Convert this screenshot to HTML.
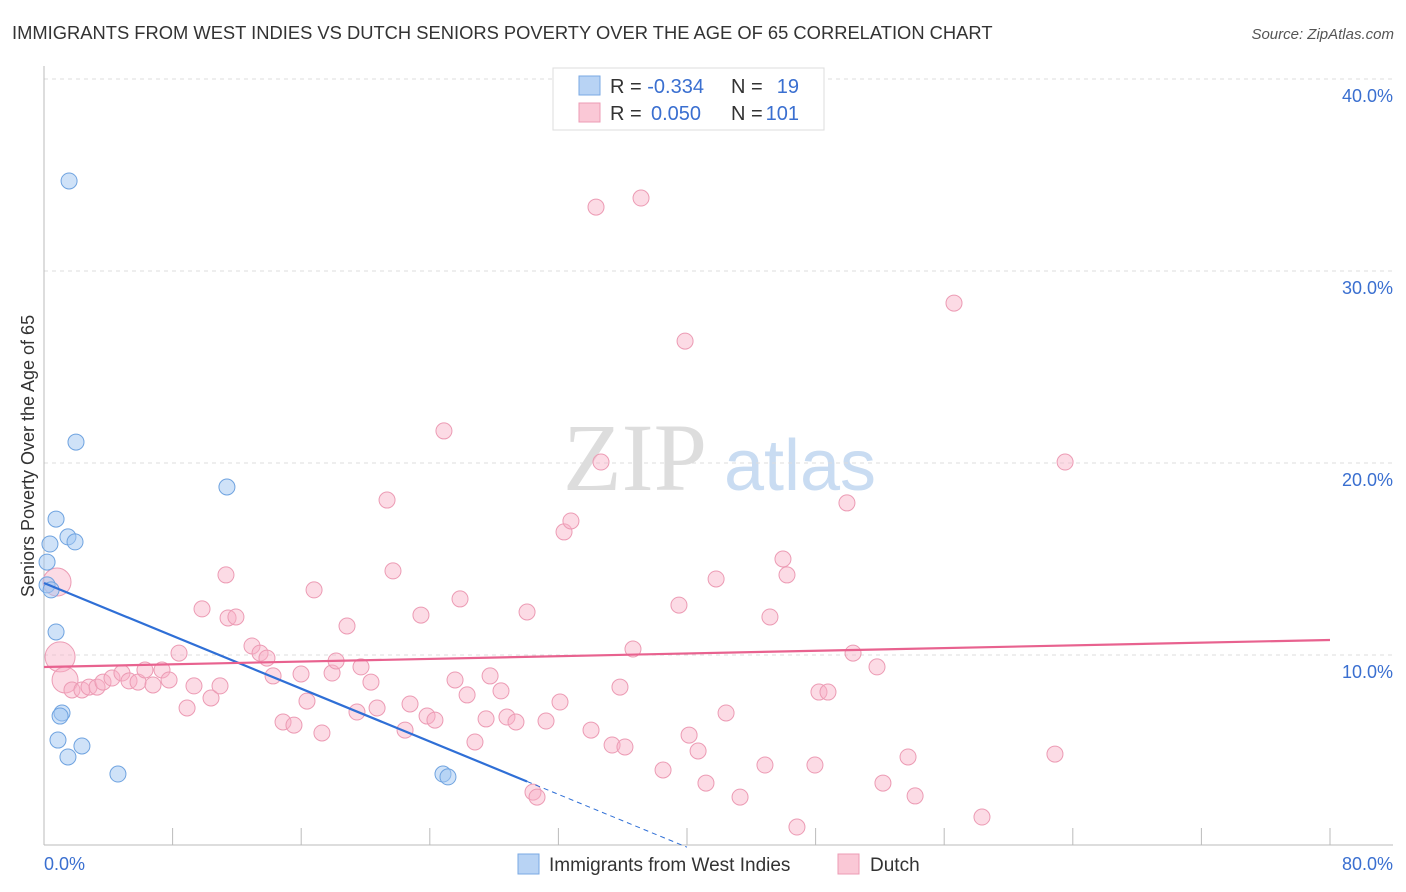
<!DOCTYPE html>
<html><head><meta charset="utf-8"><style>
body{margin:0;background:#fff;font-family:"Liberation Sans",sans-serif;}
svg{display:block}
</style></head><body>
<svg id="chart" width="1406" height="892" xmlns="http://www.w3.org/2000/svg" font-family="Liberation Sans, sans-serif">
<text x="12" y="39" font-size="18.35" fill="#333">IMMIGRANTS FROM WEST INDIES VS DUTCH SENIORS POVERTY OVER THE AGE OF 65 CORRELATION CHART</text>
<text x="1394" y="39" font-size="15" fill="#555" font-style="italic" text-anchor="end">Source: ZipAtlas.com</text>
<g>
<text x="635" y="490" font-size="96" fill="#ddd" font-family="Liberation Serif, serif" text-anchor="middle">ZIP</text>
<text x="800" y="490" font-size="72" fill="#c9dcf2" text-anchor="middle">atlas</text>
</g>
<g id="grid"></g>
<g id="axes"></g>
<g id="pink"></g>
<g id="blue"></g>
<g id="trends"></g>
<text transform="translate(34,456) rotate(-90)" font-size="18" fill="#333" text-anchor="middle">Seniors Poverty Over the Age of 65</text>
<g>
<rect x="553" y="68" width="271" height="62" fill="#fff" stroke="#ddd"/>
<rect x="579" y="76" width="21" height="19" fill="#b8d3f4" stroke="#7aa8e3"/>
<rect x="579" y="103" width="21" height="19" fill="#fac8d6" stroke="#ec9bb4"/>
<text x="610" y="93" font-size="20" fill="#333">R = <tspan fill="#3a6fd0">-0.334</tspan></text>
<text x="731" y="93" font-size="20" fill="#333">N = </text><text x="799" y="93" font-size="20" fill="#3a6fd0" text-anchor="end">19</text>
<text x="610" y="120" font-size="20" fill="#333">R = <tspan fill="#3a6fd0" x="651">0.050</tspan></text>
<text x="731" y="120" font-size="20" fill="#333">N = </text><text x="799" y="120" font-size="20" fill="#3a6fd0" text-anchor="end">101</text>
</g>
<g>
<rect x="518" y="854" width="21" height="20" fill="#b8d3f4" stroke="#7aa8e3"/>
<text x="549" y="871" font-size="19" fill="#333">Immigrants from West Indies</text>
<rect x="838" y="854" width="21" height="20" fill="#fac8d6" stroke="#ec9bb4"/>
<text x="870" y="871" font-size="19" fill="#333">Dutch</text>
</g>
</svg>
<script>
const blueX=[1.56,1.99,11.38,0.75,1.49,1.93,0.37,0.19,0.19,0.44,0.75,1.12,1.00,0.87,2.36,1.49,4.60,24.82,25.13];
const blueY=[34.69,21.09,18.75,17.08,16.15,15.89,15.78,14.84,13.65,13.39,11.20,6.98,6.82,5.57,5.26,4.69,3.80,3.80,3.65];
const pinkX=[0.81,1.00,1.31,1.74,2.36,2.80,3.30,3.67,4.23,4.85,5.29,5.85,6.28,6.78,7.34,7.78,8.40,8.90,9.33,10.39,10.95,9.83,11.32,11.45,11.94,12.94,13.44,13.87,14.25,15.99,16.36,14.87,15.55,16.80,17.29,17.92,18.17,18.85,19.47,19.72,20.34,20.72,21.34,21.71,22.46,22.77,23.45,23.83,24.32,24.88,25.57,25.88,26.32,26.81,27.50,27.75,28.43,28.80,29.36,30.05,30.42,30.67,31.23,32.10,32.35,32.78,34.03,34.34,34.65,35.34,35.83,36.14,36.64,37.14,38.51,39.50,39.88,40.13,40.69,41.18,41.81,42.43,43.30,44.85,45.16,45.97,46.22,46.84,47.96,48.21,48.77,49.95,50.33,51.82,52.19,53.75,54.19,56.61,58.35,62.89,63.52];
const pinkY=[13.80,9.90,8.70,8.18,8.18,8.33,8.33,8.59,8.80,9.06,8.65,8.59,9.22,8.44,9.22,8.70,10.10,7.24,8.39,7.76,8.39,12.40,14.17,11.93,11.98,10.47,10.10,9.84,8.91,9.01,7.60,6.51,6.35,13.39,5.94,9.06,9.69,11.51,7.03,9.38,8.59,7.24,18.07,14.38,6.09,7.45,12.08,6.82,6.61,21.67,8.70,12.92,7.92,5.47,6.67,8.91,8.13,6.77,6.51,12.24,2.86,2.60,6.56,7.55,16.41,16.98,6.09,33.33,20.05,5.31,8.33,5.21,10.31,33.80,4.01,12.60,26.35,5.83,5.00,3.33,13.96,6.98,2.60,4.27,11.98,15.00,14.17,1.04,4.27,8.07,8.07,17.92,10.10,9.38,3.33,4.69,2.66,28.33,1.56,4.84,20.05];
const pinkR=[14,15,13];
const yTicks=[10,20,30,40];
const yTickLabels=["10.0%","20.0%","30.0%","40.0%"];
const xTicks=[0,8,16,24,32,40,48,56,64,72,80];
const blueTrend=[13.75,-0.344];
const pinkTrend=[9.375,0.0176];
(function(){
const NS="http://www.w3.org/2000/svg";
const xs=v=>44+v/80*1286;
const ys=v=>847-v*19.2;
function mk(t,a,p){const e=document.createElementNS(NS,t);for(const k in a)e.setAttribute(k,a[k]);p.appendChild(e);return e;}
const grid=document.getElementById('grid'),axes=document.getElementById('axes');
yTicks.forEach((t,i)=>{
 const l=mk('line',{x1:44,x2:1393,y1:ys(t),y2:ys(t),stroke:'#ddd','stroke-dasharray':'4,4'},grid);
 
 
 const tx=mk('text',{x:1393,y:ys(t)+23,'font-size':18,fill:'#3a6fd0','text-anchor':'end'},axes);
 tx.textContent=yTickLabels[i];
 
 
});
const topLine=mk('line',{x1:44,x2:1393,y1:79,y2:79,stroke:'#ddd','stroke-dasharray':'4,4'},grid);


const ya=mk('line',{x1:44,x2:44,y1:66,y2:845,stroke:'#bbb'},axes);


const xa=mk('line',{x1:44,x2:1393,y1:845,y2:845,stroke:'#bbb'},axes);


xTicks.forEach(t=>{const l=mk('line',{x1:xs(t),x2:xs(t),y1:828,y2:845,stroke:'#bbb'},axes);
 
 });
const x0=mk('text',{x:44,y:870,'font-size':18,fill:'#3a6fd0'},axes);x0.textContent='0.0%';


const x1=mk('text',{x:1393,y:870,'font-size':18,fill:'#3a6fd0','text-anchor':'end'},axes);x1.textContent='80.0%';


const pg=document.getElementById('pink');
pinkX.forEach((x,i)=>{const c=mk('circle',{cx:xs(x),cy:ys(pinkY[i]),r:pinkR[i]||8,fill:'rgba(248,176,198,0.45)',stroke:'#ec9bb4','stroke-width':1},pg);
 
 });
const bg=document.getElementById('blue');
blueX.forEach((x,i)=>{const c=mk('circle',{cx:xs(x),cy:ys(blueY[i]),r:8,fill:'rgba(160,198,242,0.5)',stroke:'#6fa3e0','stroke-width':1},bg);
 
 });
const tg=document.getElementById('trends');
const bEnd=30.05,bDash=40;
let l=mk('line',{x1:xs(0),y1:ys(blueTrend[0]),x2:xs(bEnd),y2:ys(blueTrend[0]+blueTrend[1]*bEnd),stroke:'#2f6fd6','stroke-width':2.2},tg);


l=mk('line',{x1:xs(bEnd),y1:ys(blueTrend[0]+blueTrend[1]*bEnd),x2:xs(bDash),y2:ys(blueTrend[0]+blueTrend[1]*bDash),stroke:'#2f6fd6','stroke-width':1,'stroke-dasharray':'5,4'},tg);


l=mk('line',{x1:xs(0),y1:ys(pinkTrend[0]),x2:xs(80),y2:ys(pinkTrend[0]+pinkTrend[1]*80),stroke:'#e8628f','stroke-width':2.2},tg);


})();
</script>
</body></html>
